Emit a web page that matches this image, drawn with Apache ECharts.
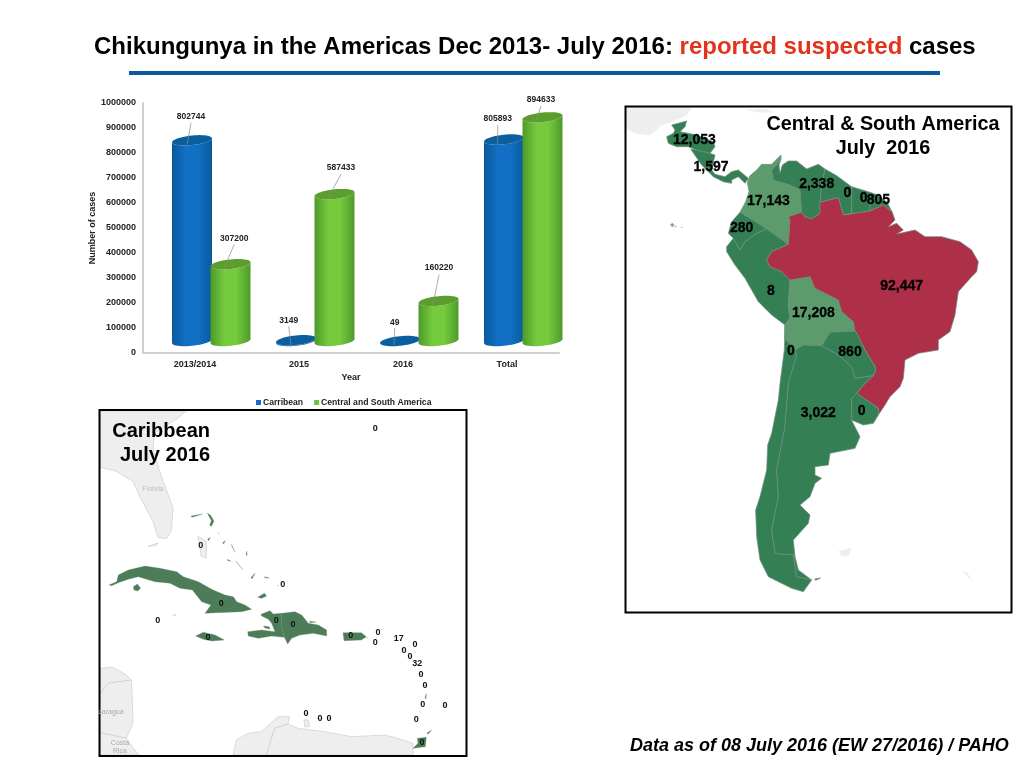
<!DOCTYPE html>
<html><head><meta charset="utf-8">
<style>html,body{margin:0;padding:0;background:#fff}#c{width:1024px;height:768px}</style>
<script src="https://cdn.jsdelivr.net/npm/echarts@6/dist/echarts.min.js"></script>
</head><body><div id="c"></div>
<script>
// ---- values ----
const years = ['2013/2014','2015','2016','Total'];
const caribbeanCases = [802744,3149,49,805893];
const centralSouthCases = [307200,587433,160220,894633];
const saCountries = ['Honduras','Nicaragua','Colombia','Venezuela','Guyana','Suriname','French Guiana','Ecuador','Peru','Bolivia','Brazil','Chile','Paraguay','Argentina','Uruguay'];
const saCases = [12053,1597,17143,2338,0,0,805,280,8,17208,92447,0,860,3022,0];
const caribIslands = ['Cuba','Jamaica','Haiti','Dominican Republic','Puerto Rico','Trinidad','Bahamas','Bermuda','Cayman','Turks','BVI','USVI','St Martin','Anguilla','St Kitts','Antigua','Guadeloupe','Martinique','St Lucia','St Vincent','Grenada','Barbados','Aruba','Curacao','Bonaire'];
const caribCases = [0,0,0,0,0,0,0,0,0,0,0,0,17,0,0,0,32,0,0,0,0,0,0,0,0];

// ---- outlines (map units: 3 per screen pixel) ----
function Q(s,dx,dy){return s.trim().split(/\s+/).map(p=>{const a=p.split(',').map(Number);return [a[0]+dx,a[1]+dy];});}
function P(s,dy){return Q(s,0,dy||0);}
function F(name,rings,cp){return {type:'Feature',properties:{name:name,cp:cp},geometry:{type:'MultiPolygon',coordinates:rings.map(r=>{const c=r.slice();c.push(r[0]);return [c];})}};}
function dot(x,y,s){s=s||2.5;return [[x-s,y],[x,y-s],[x+s,y],[x,y+s]];}
function sliver(x1,y1,x2,y2){return [[x1-1,y1-1],[x2-1,y2-2],[x2+2,y2+1],[x1+2,y1+3]];}

const saFeatures=[
F('Honduras',[Q("35,30 80,18 75,35 60,50 110,60 160,80 165,95 150,115 110,105 85,95 50,95 25,85 20,65 40,55 45,45",105,30)],[208,105]),
F('Nicaragua',[Q("92,102 110,105 150,115 165,120 155,165 165,178 195,185 215,170 235,165 265,190 255,205 235,185 215,195 215,205 190,200 160,185 125,150",105,30)],[258,185]),
F('Colombia',[P("468,150 458,160 440,178 410,178 395,195 375,212 367,232 372,260 362,290 345,322 395,352 425,372 465,400 490,418 495,345 490,335 530,322 525,255 495,240 445,225 440,195 455,180 468,162")],[430,288]),
F('Venezuela',[P("440,195 455,180 468,162 462,180 465,205 472,180 490,168 515,168 545,192 580,178 600,192 590,240 585,292 585,325 560,342 540,335 530,322 525,255 495,240 445,225")],[575,237]),
F('Guyana',[P("600,192 635,212 680,245 680,325 655,330 640,278 585,292 590,240")],[667,265]),
F('Suriname',[P("680,245 735,262 735,318 690,325 680,325")],[716,280]),
F('French Guiana',[P("735,262 752,268 785,290 802,322 775,300 740,315 735,318")],[760,285]),
F('Ecuador',[P("345,322 395,352 425,372 395,385 360,410 345,435 325,400 310,385 320,350")],[350,368]),
F('Peru',[P("305,425 325,400 345,435 360,410 395,385 425,372 465,400 490,418 440,440 425,465 435,485 470,500 495,525 490,600 495,640 480,660 440,630 400,590 360,520 330,480 305,440")],[438,558]),
F('Bolivia',[P("495,525 555,515 570,550 640,585 650,620 685,650 690,678 615,682 590,722 535,720 510,735 480,700 480,660 495,640 490,600")],[565,625]),
F('Brazil',[P("495,345 490,335 530,322 540,335 560,342 585,325 585,292 640,278 655,330 690,325 735,318 775,300 802,322 810,345 790,365 815,355 835,375 815,387 870,375 900,395 950,395 1005,410 1040,435 1060,470 1055,500 1040,515 1000,560 990,630 975,680 940,705 940,735 880,745 840,765 835,820 825,845 795,875 780,900 760,930 760,910 695,865 720,835 745,812 752,795 750,785 720,735 695,685 690,678 685,650 650,620 640,585 570,550 555,515 495,525 470,500 435,485 425,465 440,440 490,418")],[830,543]),
F('Chile',[P("480,660 480,700 510,735 515,750 490,835 480,965 455,1095 460,1175 440,1275 450,1345 505,1350 515,1415 560,1425 535,1460 500,1450 430,1415 405,1365 395,1295 392,1215 405,1175 425,1095 428,1020 440,985 460,885 465,835 478,735")],[498,738]),
F('Paraguay',[P("615,682 690,678 695,685 720,735 750,785 752,795 745,812 690,820 680,785 640,750 590,722")],[675,740]),
F('Argentina',[P("510,735 535,720 590,722 640,750 680,785 690,820 745,812 720,835 695,865 680,880 680,945 682,950 705,995 690,1030 615,1045 610,1080 570,1085 570,1110 590,1120 570,1135 555,1175 525,1200 555,1230 550,1255 505,1305 510,1355 520,1395 560,1425 515,1415 505,1350 450,1345 440,1275 460,1175 455,1095 480,965 490,835 515,750"),sliver(570,1423,588,1421)],[580,923]),
F('Uruguay',[P("695,865 760,910 760,930 745,955 715,960 680,945 680,880")],[710,918])
];
const saBackdrop=[
F('Mexico',[P("3,6 200,6 185,30 140,50 110,60 75,90 30,85 3,70")],[50,50]),
F('Cuba bit',[P("365,14 420,12 445,22 400,22")],[400,18]),
F('Galapagos',[dot(142,360,6),dot(152,365,3),dot(170,367,2)],[150,360]),
F('Falklands',[P("642,1338 680,1330 670,1352 650,1352")],[660,1340]),
F('South Georgia',[P("1015,1400 1025,1402 1040,1425 1030,1418")],[1030,1410])
];
const A=[21,456]; // map units of the lower Caribbean tracing
const caribFeatures=[
F('Cuba',[Q("12,75 35,65 40,45 70,30 120,18 165,25 215,35 235,50 280,65 320,88 360,105 385,110 395,125 420,135 440,148 410,155 335,158 300,160 318,135 290,125 262,90 225,85 195,70 150,65 125,58 100,50 70,58 40,68 20,77",A[0],A[1]),Q("85,80 97,72 107,85 98,93 87,90",A[0],A[1]),Q("458,112 478,100 485,108 470,115",A[0],A[1])],[370,586]),
F('Jamaica',[Q("272,228 295,217 330,225 358,240 320,243 295,238",A[0],A[1])],[330,688]),
F('Haiti',[Q("468,163 495,152 505,162 530,160 528,195 538,232 500,228 460,235 430,228 428,215 470,210 510,215 500,190 490,178 470,168",A[0],A[1]),Q("475,198 492,200 496,207 480,204",A[0],A[1])],[535,638]),
F('Dominican Republic',[Q("530,160 570,155 590,165 610,190 640,195 665,210 665,228 625,220 585,225 560,235 548,252 538,232 528,195",A[0],A[1])],[585,649]),
F('Puerto Rico',[P("735,158 790,158 805,170 790,180 738,182",516)],[758,684]),
F('Trinidad',[P("958,475 985,472 982,500 945,505 960,490",516),sliver(988,976,1002,968)],[972,1003]),
F('Bahamas',[sliver(280,325,315,320),P("328,315 338,322 348,340 340,355 335,352 340,338"),sliver(360,375,365,380),sliver(375,405,383,400),sliver(400,410,412,435),sliver(330,395,338,390),sliver(388,455,400,462),sliver(415,460,435,487),sliver(445,440,448,432),sliver(460,510,472,497),sliver(500,507,515,512),sliver(635,641,655,644)],[308,412]),
F('Bermuda',[dot(832,63,1)],[832,63]),
F('Cayman',[dot(232,621,2),dot(226,622,1.5)],[179,638]),
F('Turks',[dot(540,533,2)],[554,531]),
F('BVI',[dot(850,664,1.5)],[840,674]),
F('USVI',[dot(808,690,2)],[832,704]),
F('St Martin',[dot(890,690,1.5)],[902,691]),
F('Anguilla',[dot(950,732,2)],[951,709]),
F('St Kitts',[dot(912,722,2)],[918,729]),
F('Antigua',[dot(936,746,1.5)],[936,746]),
F('Guadeloupe',[dot(960,770,3),dot(950,774,2)],[958,766]),
F('Martinique',[dot(969,799,2)],[969,799]),
F('St Lucia',[dot(981,832,3)],[981,832]),
F('St Vincent',[sliver(982,870,986,858)],[974,889]),
F('Grenada',[dot(968,912,1.5)],[955,936]),
F('Barbados',[dot(1041,893,2)],[1041,893]),
F('Aruba',[dot(624,917,2)],[624,917]),
F('Curacao',[dot(666,933,2)],[666,933]),
F('Bonaire',[dot(693,931,2)],[693,931])
];
const caribBackdrop=[
F('Florida',[P("6,9 265,9 240,30 170,75 165,120 185,190 225,300 220,370 205,392 180,388 165,340 125,265 105,220 55,190 6,178")],[60,60]),
F('Andros',[P("300,385 325,400 325,450 310,445")],[310,420]),
F('Cuba north',[P("150,415 180,405 175,412")],[160,410]),
F('Honduras',[P("6,781 45,778 85,801 100,816 30,826 6,858")],[30,800]),
F('Nicaragua',[P("6,858 30,826 100,816 102,846 105,946 85,991 40,981 8,974")],[40,900]),
F('Costa Rica',[P("6,974 40,981 85,991 110,1026 125,1041 6,1041")],[50,1010]),
F('Colombia',[P("405,1041 415,996 450,976 490,971 540,926 575,926 570,948 530,961 505,1041")],[470,1010]),
F('Venezuela',[P("505,1041 530,961 570,948 600,961 680,971 760,986 860,981 900,991 945,1006 945,1041")],[700,1010]),
F('Aruba',[P("618,936 632,936 634,956 620,956")],[625,945])
];
echarts.registerMap('sa',{type:'FeatureCollection',features:saFeatures});
echarts.registerMap('saBack',{type:'FeatureCollection',features:saBackdrop});
echarts.registerMap('cb',{type:'FeatureCollection',features:caribFeatures});
echarts.registerMap('cbBack',{type:'FeatureCollection',features:caribBackdrop});

// ---- 3D cylinder look ----
const plain={project:p=>p,unproject:p=>p};
const font='"Liberation Sans",Arial,sans-serif';
const lift=12,rx=20,ry=4.8,tilt=2;
function ringPt(cx,cy,t){return [cx+rx*Math.cos(t),cy+ry*Math.sin(t)-tilt*Math.cos(t)];}
function vGrad(a,b){return {type:'linear',x:0,y:0,x2:1,y2:0,colorStops:[{offset:0,color:a},{offset:.35,color:b},{offset:.65,color:b},{offset:1,color:a}]};}
// leader style: label dx, label dy, line start dy, line end dx, line end dy
const blueLeaders=[[-1,-23.6,-17.6,-4.7,3.7],[-7.3,-20,-14,-5,5],[-5.3,-18.3,-13,-6,4],[-6.3,-20.8,-14.5,-6.3,4.5]];
const greenLeaders=[[3.8,-26,-20,-6.5,4],[6.5,-26,-20,-6.5,4],[.5,-33,-26.5,-5.5,4],[-1.5,-17.3,-11.3,-6.5,2.7]];
function cylinder(xShift,side,top,leaders){
  return function(params,api){
    const i=api.value(0),v=api.value(1);
    const p=api.coord([i,v]),b=api.coord([i,0]);
    const cx=p[0]+xShift,ty=p[1]-lift,by=b[1]-lift;
    const body=[],cap=[];
    const N=24;
    for(let k=0;k<=N;k++)body.push(ringPt(cx,by,Math.PI-k*Math.PI/N));
    for(let k=0;k<=N;k++)body.push(ringPt(cx,ty,k*Math.PI/N));
    for(let k=0;k<2*N;k++)cap.push(ringPt(cx,ty,k*Math.PI/N));
    const L=leaders[i];
    return {type:'group',children:[
      {type:'polygon',shape:{points:body},style:{fill:vGrad(side,top.mid)}},
      {type:'polygon',shape:{points:cap},style:{fill:top.cap}},
      {type:'line',shape:{x1:cx+L[0],y1:ty+L[2],x2:cx+L[3],y2:ty+L[4]},style:{stroke:'#8a8a8a',lineWidth:.7}},
      {type:'text',x:cx+L[0],y:ty+L[1],style:{text:String(v),font:'bold 8.5px '+font,fill:'#222',textAlign:'center',textVerticalAlign:'middle'}}
    ]};
  };
}
const axisText={fontFamily:font,fontSize:9,fontWeight:'bold',color:'#222'};
function mapBase(map,box,bounds,extra){
  return Object.assign({type:'map',map:map,projection:plain,left:box[0],top:box[1],width:box[2],height:box[3],boundingCoords:bounds,roam:false,silent:true,showLegendSymbol:false,emphasis:{disabled:true},select:{disabled:true},label:{show:false}},extra);
}
function labelled(names,vals){return names.map((n,i)=>({name:n,value:vals[i],label:{show:true}}));}
const fmt=p=>Number(p.value).toLocaleString('en-US');

const chart=echarts.init(document.getElementById('c'),null,{renderer:'canvas'});
chart.setOption({
  animation:false,backgroundColor:'#fff',
  textStyle:{fontFamily:font},
  title:[
    {left:89,top:30,z:20,text:'{k|Chikungunya in the Americas Dec 2013- July 2016: }{r|reported suspected}{k| cases}',
     textStyle:{rich:{k:{fontFamily:font,fontSize:24,fontWeight:'bold',color:'#000'},r:{fontFamily:font,fontSize:24,fontWeight:'bold',color:'#e2341d'}}}},
    {left:878,top:108,textAlign:'center',z:20,text:'Central & South America\nJuly  2016',textStyle:{fontFamily:font,fontSize:19.8,fontWeight:'bold',color:'#000',lineHeight:24}},
    {left:205,top:414,textAlign:'right',z:20,text:'Caribbean\nJuly 2016',textStyle:{fontFamily:font,fontSize:20,fontWeight:'bold',color:'#000',lineHeight:24}},
    {left:625,top:732,z:20,text:'Data as of 08 July 2016 (EW 27/2016) / PAHO',textStyle:{fontFamily:font,fontSize:18,fontWeight:'bold',fontStyle:'italic',color:'#000'}}
  ],
  grid:{left:143,top:103,width:416,height:250,containLabel:false},
  xAxis:{type:'category',data:years,name:'Year',nameLocation:'middle',nameGap:20,nameTextStyle:axisText,
    axisLine:{lineStyle:{color:'#cfcfcf',width:2}},axisTick:{show:false},axisLabel:Object.assign({margin:7},axisText),splitLine:{show:false}},
  yAxis:{type:'value',min:0,max:1000000,interval:100000,name:'Number of cases',nameLocation:'middle',nameGap:42,nameTextStyle:axisText,
    axisLine:{show:true,lineStyle:{color:'#cfcfcf',width:2}},axisTick:{show:false},axisLabel:Object.assign({margin:7,formatter:v=>String(v)},axisText),splitLine:{show:false}},
  legend:{left:251,top:393,itemWidth:5,itemHeight:5,itemGap:11,icon:'rect',selectedMode:false,
    data:['Carribean','Central and South America'],textStyle:Object.assign({},axisText,{fontSize:8.6,padding:[0,0,0,-3]})},
  visualMap:[
    {show:false,seriesIndex:3,type:'piecewise',dimension:'value',pieces:[{gte:50000,color:'#ad2f48'},{gte:15000,lt:50000,color:'#5c9c6c'},{lt:15000,color:'#357f55'}]},
    {show:false,seriesIndex:5,type:'piecewise',dimension:'value',pieces:[{gte:0,color:'#4c7d58'}]}
  ],
  series:[
    {name:'Carribean',type:'custom',itemStyle:{color:'#1170c4'},encode:{x:0,y:1},data:caribbeanCases.map((v,i)=>[i,v]),
     renderItem:cylinder(-3,'#0a5a9c',{mid:'#1170c4',cap:'#0c5f9f'},blueLeaders),z:2},
    {name:'Central and South America',type:'custom',itemStyle:{color:'#6fc23a'},encode:{x:0,y:1},data:centralSouthCases.map((v,i)=>[i,v]),
     renderItem:cylinder(35.5,'#4c9a2a',{mid:'#75ca3d',cap:'#5c9e2e'},greenLeaders),z:3},
    mapBase('saBack',[626,107,385,505],[[3,6],[1158,1521]],{itemStyle:{areaColor:'#eeeeee',borderColor:'#eeeeee',borderWidth:.5},
      data:[{name:'Galapagos',itemStyle:{areaColor:'#999999',borderColor:'#999999'}}],z:1}),
    mapBase('sa',[626,107,385,505],[[3,6],[1158,1521]],{itemStyle:{areaColor:'#357f55',borderColor:'#6d8f7c',borderWidth:.7},
      label:{show:false,formatter:fmt,fontFamily:font,fontSize:14,fontWeight:'bold',color:'#000',textBorderColor:'#000',textBorderWidth:.3},data:labelled(saCountries,saCases),z:2}),
    mapBase('cbBack',[100,411,366,344],[[6,9],[1104,1041]],{itemStyle:{areaColor:'#eeeeee',borderColor:'#c8c8c8',borderWidth:.6},z:1}),
    mapBase('cb',[100,411,366,344],[[6,9],[1104,1041]],{itemStyle:{areaColor:'#4c7d58',borderColor:'#5f8a6b',borderWidth:.3},
      label:{show:false,formatter:fmt,fontFamily:font,fontSize:9,fontWeight:'bold',color:'#111'},data:labelled(caribIslands,caribCases),z:2})
  ],
  graphic:[
    {type:'rect',shape:{x:129,y:71,width:811,height:4},style:{fill:'#0b5a9e'},z:30},
    {type:'rect',shape:{x:625.5,y:106.5,width:386,height:506},style:{fill:'none',stroke:'#000',lineWidth:2},z:30},
    {type:'rect',shape:{x:99.5,y:410,width:367,height:346},style:{fill:'none',stroke:'#000',lineWidth:2},z:30},
    {type:'text',x:772,y:291,style:{text:'Peru',font:'7px '+font,fill:'#bbb',textAlign:'center',textVerticalAlign:'middle'},z:1},
    {type:'text',x:153,y:489,style:{text:'Florida',font:'7px '+font,fill:'#bbb',textAlign:'center',textVerticalAlign:'middle'},z:30},
    {type:'text',x:128,y:422,style:{text:'Georgia',font:'7px '+font,fill:'#bbb',textAlign:'center',textVerticalAlign:'middle'},z:1},
    {type:'text',x:111,y:712,style:{text:'caragua',font:'7px '+font,fill:'#aaa',textAlign:'center',textVerticalAlign:'middle'},z:30},
    {type:'text',x:120,y:747,style:{text:'Costa\nRica',font:'7px '+font,fill:'#aaa',textAlign:'center',textVerticalAlign:'middle',lineHeight:8},z:30}
  ]
});
</script></body></html>
